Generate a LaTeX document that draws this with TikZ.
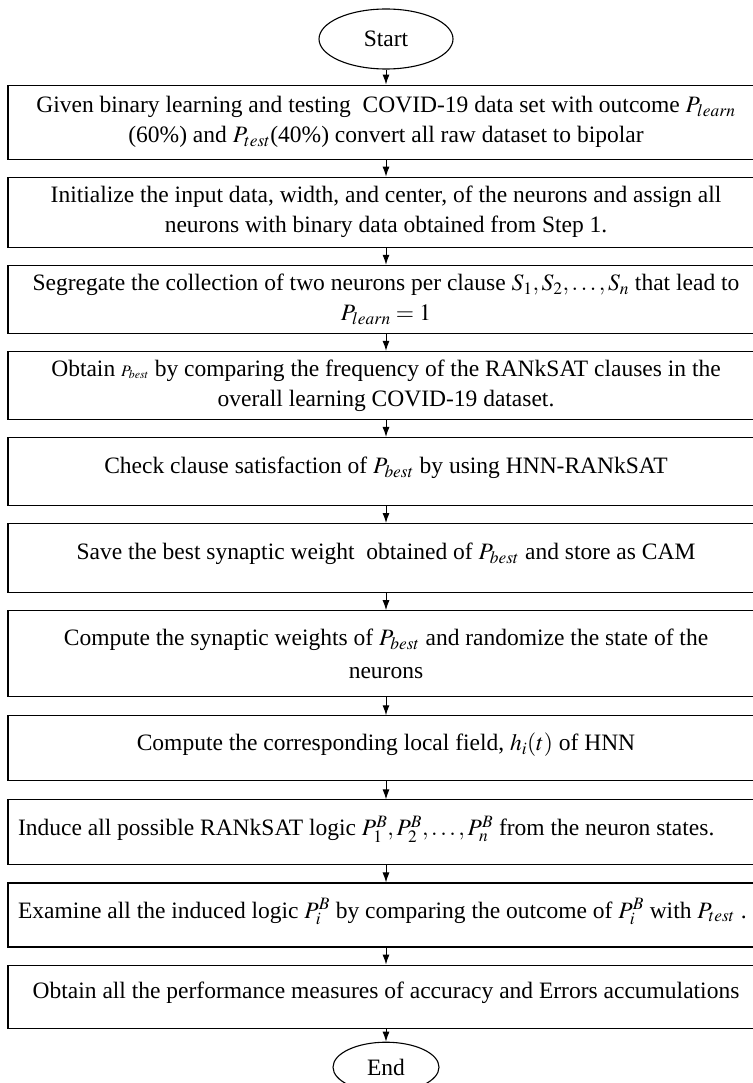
\documentclass[tikz,border=0pt]{standalone}
\usepackage{mathptmx}
\usepackage[no-math]{fontspec}
\setmainfont{Liberation Serif}
\usetikzlibrary{arrows.meta,positioning,shapes.geometric}
\tikzset{
  stepbox/.style={draw, rectangle, line width=1.1pt, align=center, minimum width=756pt, inner sep=4pt, font=\fontsize{23.5}{30}\selectfont},
  upper/.style={text depth=13pt},
  termnode/.style={draw, ellipse, line width=1.1pt, minimum width=134pt, minimum height=60pt, font=\fontsize{23.5}{30}\selectfont},
  arr/.style={-{Latex[length=10pt,width=7pt]}, line width=1pt},
}
\newcommand{\flushtext}[1]{\makebox[736pt][l]{#1}}

\begin{document}
\begin{tikzpicture}[node distance=17pt]
\useasboundingbox (0,0) rectangle (752pt,-1083pt);
\node[termnode] (start) at (386pt,-39pt) {Start};
\node[stepbox, minimum height=74pt, below=15pt of start] (s1) {Given binary learning and testing\ \ COVID-19 data set with outcome $P_{learn}$\\(60\%) and $P_{test}$(40\%) convert all raw dataset to bipolar};
\node[stepbox, minimum height=70pt, below=of s1] (s2) {Initialize the input data, width, and center, of the neurons and assign all\\neurons with binary data obtained from Step 1.};
\node[stepbox, minimum height=68pt, below=of s2] (s3) {Segregate the collection of two neurons per clause $S_1,S_2,\ldots,S_n$ that lead to\\$P_{learn}=1$};
\node[stepbox, minimum height=68pt, below=of s3] (s4) {Obtain {\fontsize{16}{16}\selectfont$P_{best}$} by comparing the frequency of the RANkSAT clauses in the\\overall learning COVID-19 dataset.};
\node[stepbox, upper, minimum height=68pt, below=of s4] (s5) {Check clause satisfaction of $P_{best}$ by using HNN-RANkSAT};
\node[stepbox, upper, minimum height=69pt, below=of s5] (s6) {Save the best synaptic weight\ \ obtained of $P_{best}$ and store as CAM};
\node[stepbox, minimum height=86pt, below=of s6] (s7) {Compute the synaptic weights of $P_{best}$ and randomize the state of the\\[3pt]neurons};
\node[stepbox, upper, minimum height=65pt, below=18pt of s7] (s8) {Compute the corresponding local field, $h_i(t)$ of HNN};
\node[stepbox, upper, minimum height=65pt, below=18pt of s8] (s9) {\flushtext{Induce all possible RANkSAT logic $P_1^B,P_2^B,\ldots,P_n^B$ from the neuron states.}};
\node[stepbox, upper, minimum height=64pt, below=of s9] (s10) {\flushtext{Examine all the induced logic $P_i^B$ by comparing the outcome of $P_i^B$ with $P_{test}$ .}};
\node[stepbox, upper, minimum height=63pt, below=of s10] (s11) {Obtain all the performance measures of accuracy and Errors accumulations};
\node[termnode, minimum width=106pt, minimum height=50pt, below=13pt of s11] (end) {End};
\foreach \a/\b in {start/s1, s1/s2, s2/s3, s3/s4, s4/s5, s5/s6, s6/s7, s7/s8, s8/s9, s9/s10, s10/s11, s11/end}
  \draw[arr] (\a) -- (\b);
\end{tikzpicture}
\end{document}
